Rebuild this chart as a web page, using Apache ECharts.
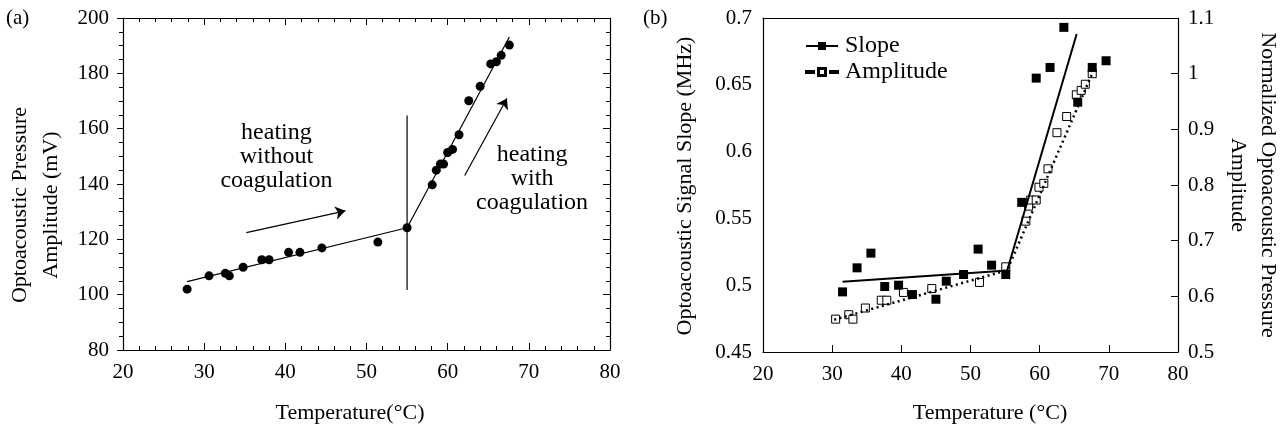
<!DOCTYPE html>
<html>
<head>
<meta charset="utf-8">
<title>Optoacoustic coagulation</title>
<script src="https://cdn.jsdelivr.net/npm/echarts@6/dist/echarts.min.js"></script>
<style>
  html, body { margin: 0; padding: 0; background: #fff; }
  #chart { width: 1286px; height: 429px; }
</style>
</head>
<body>
<div id="chart"></div>
<script>
// (a) measured pressure amplitude vs temperature
var tempA = [27.9, 30.6, 32.6, 33.1, 34.8, 37.1, 38.0, 40.4, 41.8, 44.5, 51.4, 55.0,
             58.1, 58.6, 59.1, 59.5, 60.0, 60.6, 61.4, 62.6, 64.0, 65.3, 66.0, 66.6, 67.6];
var ampA = [102.0, 106.8, 107.7, 106.8, 109.9, 112.6, 112.6, 115.3, 115.3, 116.9, 119.0, 124.2,
            139.7, 145.0, 147.2, 147.2, 151.4, 152.5, 157.8, 170.1, 175.3, 183.4, 184.2, 186.5, 190.2];
// fitted lines, break marker and arrows of (a)
var fitA = [[27.9, 104.7], [55.0, 124.2], [67.6, 193.1]];
var breakA = [[55.0, 101.7], [55.0, 164.8]];
var arrowsA = [
    [[35.2, 122.4], [47.4, 130.3]],
    [[62.1, 143.1], [67.3, 170.9]]
];
var notesA = [
    [38.9, 149.8, 'heating\nwithout\ncoagulation'],
    [70.4, 141.9, 'heating\nwith\ncoagulation']
];

// (b) signal slope (left axis) and normalized amplitude (right axis)
var tempSlope = [31.5, 33.6, 35.6, 37.6, 39.6, 41.6, 45.0, 46.5, 49.0, 51.1, 53.05, 55.1,
                 57.4, 59.5, 61.5, 63.5, 65.5, 67.6, 69.6];
var slope = [0.495, 0.513, 0.524, 0.499, 0.500, 0.493, 0.4895, 0.503, 0.508, 0.527, 0.515, 0.508,
             0.562, 0.655, 0.663, 0.693, 0.637, 0.663, 0.668];
var tempAmp = [30.5, 32.4, 33.0, 34.8, 37.1, 37.9, 40.3, 44.4, 51.3, 55.1, 58.0, 58.4,
               58.7, 59.5, 59.9, 60.6, 61.2, 62.5, 63.9, 65.3, 66.0, 66.6, 67.6];
var ampNorm = [0.559, 0.567, 0.559, 0.579, 0.593, 0.593, 0.607, 0.614, 0.625, 0.653, 0.735, 0.762,
               0.773, 0.773, 0.796, 0.803, 0.829, 0.894, 0.923, 0.962, 0.970, 0.981, 1.000];
var fitSlope = [[31.5, 0.5025], [55.3, 0.511], [65.35, 0.688]];
var fitAmp = [[30.3, 0.558], [55.3, 0.647], [67.8, 1.006]];

function zip(xs, ys) {
    var out = [];
    for (var i = 0; i < xs.length; i++) {
        out.push([xs[i], ys[i]]);
    }
    return out;
}

var ink = '#000';
var serif = '"Liberation Serif", "DejaVu Serif", serif';

var myChart = echarts.init(document.getElementById('chart'));

function xAx(grid, pos, labels, ticksIn, minor) {
    return {
        type: 'value', gridIndex: grid, position: pos,
        min: 20, max: 80, interval: 10,
        axisLine: { show: true, onZero: false, lineStyle: { color: ink, width: 1.2 } },
        axisTick: { show: ticksIn !== null, inside: true, length: 7, lineStyle: { color: ink } },
        minorTick: { show: minor, splitNumber: 5, length: 4, lineStyle: { color: ink } },
        axisLabel: { show: labels, margin: 12, color: ink, fontFamily: serif, fontSize: 21 },
        splitLine: { show: false }
    };
}

var option = {
    animation: false,
    backgroundColor: '#fff',
    grid: [
        { left: 123, right: 676, top: 18, bottom: 79 },
        { left: 763, right: 108, top: 18, bottom: 77 }
    ],
    xAxis: [
        xAx(0, 'bottom', true, true, true),
        xAx(0, 'top', false, true, true),
        xAx(1, 'bottom', true, true, false),
        xAx(1, 'top', false, null, false)
    ],
    yAxis: [
        {
            type: 'value', gridIndex: 0, position: 'left',
            min: 80, max: 200, interval: 20,
            axisLine: { show: true, onZero: false, lineStyle: { color: ink, width: 1.2 } },
            axisTick: { show: true, inside: false, length: 6, lineStyle: { color: ink } },
            minorTick: { show: true, splitNumber: 4, length: 4, lineStyle: { color: ink } },
            axisLabel: { margin: 14, color: ink, fontFamily: serif, fontSize: 21 },
            splitLine: { show: false }
        },
        {
            type: 'value', gridIndex: 0, position: 'right',
            min: 80, max: 200, interval: 20,
            axisLine: { show: true, onZero: false, lineStyle: { color: ink, width: 1.2 } },
            axisTick: { show: true, inside: true, length: 7, lineStyle: { color: ink } },
            minorTick: { show: true, splitNumber: 4, length: 4, lineStyle: { color: ink } },
            axisLabel: { show: false },
            splitLine: { show: false }
        },
        {
            type: 'value', gridIndex: 1, position: 'left',
            min: 0.45, max: 0.7, interval: 0.05,
            axisLine: { show: true, onZero: false, lineStyle: { color: ink, width: 1.2 } },
            axisTick: { show: false },
            axisLabel: { margin: 11, color: ink, fontFamily: serif, fontSize: 21 },
            splitLine: { show: false }
        },
        {
            type: 'value', gridIndex: 1, position: 'right',
            min: 0.5, max: 1.1, interval: 0.1,
            axisLine: { show: true, onZero: false, lineStyle: { color: ink, width: 1.2 } },
            axisTick: { show: true, inside: true, length: 7, lineStyle: { color: ink } },
            axisLabel: { margin: 10, color: ink, fontFamily: serif, fontSize: 21 },
            splitLine: { show: false }
        }
    ],
    legend: {
        orient: 'vertical',
        left: 800, top: 29,
        itemWidth: 32, itemHeight: 9, itemGap: 2,
        inactiveColor: ink,
        textStyle: { color: ink, fontFamily: serif, fontSize: 24, padding: [0, 0, 0, 2] },
        data: [
            { name: 'Slope', icon: 'path://M0,4.1H32V5.9H0Z M12,1H20V9H12Z', itemStyle: { color: ink, opacity: 1 } },
            { name: 'Amplitude', icon: 'path://M0,4H3V6H0Z M5,4H8V6H5Z M12,1H20V9H12Z M13,2V8H19V2Z M24,4H27V6H24Z M29,4H32V6H29Z', itemStyle: { color: ink, opacity: 1 } }
        ]
    },
    series: [
        // panel (a)
        {
            name: 'fitA', type: 'line', xAxisIndex: 0, yAxisIndex: 0,
            data: fitA, symbol: 'none', silent: true,
            lineStyle: { color: ink, width: 1.2 },
            markLine: {
                silent: true, symbol: ['none', 'arrow'], symbolSize: 10,
                label: { show: false },
                lineStyle: { color: ink, width: 1.2, type: 'solid' },
                data: arrowsA.map(function (a) {
                    return [{ coord: a[0] }, { coord: a[1] }];
                })
            }
        },
        {
            name: 'breakA', type: 'line', xAxisIndex: 0, yAxisIndex: 0,
            data: breakA, symbol: 'none', silent: true,
            lineStyle: { color: ink, width: 1.2 }
        },
        {
            name: 'Pressure', type: 'scatter', xAxisIndex: 0, yAxisIndex: 0,
            data: zip(tempA, ampA), symbol: 'circle', symbolSize: 9,
            itemStyle: { color: ink, opacity: 1 }
        },
        {
            name: 'notesA', type: 'scatter', xAxisIndex: 0, yAxisIndex: 0,
            data: notesA, symbolSize: 0, silent: true,
            itemStyle: { opacity: 1 },
            label: {
                show: true, position: 'inside',
                formatter: function (p) { return p.data[2]; },
                color: ink, fontFamily: serif, fontSize: 24, lineHeight: 24, align: 'center'
            }
        },
        // panel (b)
        {
            name: 'fitSlope', type: 'line', xAxisIndex: 2, yAxisIndex: 2,
            data: fitSlope, symbol: 'none', silent: true,
            lineStyle: { color: ink, width: 2 }
        },
        {
            name: 'fitAmp', type: 'line', xAxisIndex: 2, yAxisIndex: 3,
            data: fitAmp, symbol: 'none', silent: true,
            lineStyle: { color: ink, width: 2.5, type: [2, 3.5] }
        },
        {
            name: 'Amplitude', type: 'scatter', xAxisIndex: 2, yAxisIndex: 3,
            data: zip(tempAmp, ampNorm), symbol: 'rect', symbolSize: 8,
            itemStyle: { color: '#fff', borderColor: ink, borderWidth: 1, opacity: 1 }
        },
        {
            name: 'Slope', type: 'scatter', xAxisIndex: 2, yAxisIndex: 2,
            data: zip(tempSlope, slope), symbol: 'rect', symbolSize: 9,
            itemStyle: { color: ink, opacity: 1 }
        }
    ],
    graphic: [
        { type: 'text', left: 6, top: 8, style: { text: '(a)', fill: ink, font: '21px ' + serif } },
        { type: 'text', left: 643, top: 8, style: { text: '(b)', fill: ink, font: '21px ' + serif } },
        {
            type: 'text', x: 36, y: 205, rotation: Math.PI / 2,
            style: { text: 'Optoacoustic Pressure\nAmplitude (mV)', fill: ink, font: '22px ' + serif,
                     align: 'center', verticalAlign: 'middle', lineHeight: 31 }
        },
        {
            type: 'text', x: 350, y: 413,
            style: { text: 'Temperature(°C)', fill: ink, font: '22px ' + serif,
                     align: 'center', verticalAlign: 'middle' }
        },
        {
            type: 'text', x: 685, y: 186, rotation: Math.PI / 2,
            style: { text: 'Optoacoustic Signal Slope (MHz)', fill: ink, font: '22px ' + serif,
                     align: 'center', verticalAlign: 'middle' }
        },
        {
            type: 'text', x: 1253, y: 185, rotation: -Math.PI / 2,
            style: { text: 'Normalized Optoacoustic Pressure\nAmplitude', fill: ink, font: '22px ' + serif,
                     align: 'center', verticalAlign: 'middle', lineHeight: 30 }
        },
        {
            type: 'text', x: 990, y: 413,
            style: { text: 'Temperature (°C)', fill: ink, font: '22px ' + serif,
                     align: 'center', verticalAlign: 'middle' }
        }
    ]
};

myChart.setOption(option);
</script>
</body>
</html>
